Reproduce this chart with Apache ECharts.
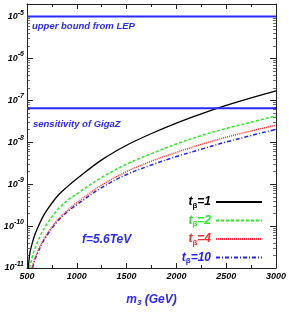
<!DOCTYPE html>
<html><head><meta charset="utf-8">
<script src="https://cdn.jsdelivr.net/npm/echarts@6/dist/echarts.min.js"></script>
<style>html,body{margin:0;padding:0;background:#fff}#c{width:289px;height:312px}</style>
</head><body><div id="c"></div>
<script>
// ---- data ----
const massTb1 = [503,527,550,577,600,650,700,800,900,1000,1250,1500,1750,2000,2250,2500,2750,3000];
const valTb1  = [5e-12,2.14e-11,3.72e-11,6.03e-11,8.32e-11,1.51e-10,2.40e-10,5.01e-10,8.51e-10,1.35e-9,3.80e-9,8.51e-9,1.62e-8,2.88e-8,4.79e-8,7.59e-8,1.15e-7,1.70e-7];
const massTb2 = [527,550,577,600,650,700,800,900,1000,1250,1500,1750,2000,2250,2500,2750,3000];
const valTb2  = [1.0e-11,1.74e-11,2.82e-11,3.89e-11,7.08e-11,1.12e-10,2.34e-10,3.98e-10,5.89e-10,1.45e-9,3.02e-9,5.37e-9,9.12e-9,1.45e-8,2.14e-8,3.02e-8,4.27e-8];
const massTb4 = [550,577,600,650,700,800,900,1000,1250,1500,1750,2000,2250,2500,2750,3000];
const valTb4  = [1.0e-11,1.62e-11,2.24e-11,4.07e-11,6.46e-11,1.35e-10,2.29e-10,3.63e-10,9.55e-10,2.0e-9,3.55e-9,5.75e-9,8.91e-9,1.32e-8,1.86e-8,2.57e-8];
const massTb10 = [555,577,600,650,700,800,900,1000,1250,1500,1750,2000,2250,2500,2750,3000];
const valTb10  = [1.0e-11,1.51e-11,2.09e-11,3.80e-11,6.03e-11,1.26e-10,2.14e-10,3.24e-10,8.32e-10,1.70e-9,2.88e-9,4.57e-9,6.84e-9,1.02e-8,1.45e-8,2.04e-8];
const seriesNames = ['tb=1','tb=2','tb=4','tb=10'];
const legendSuffix = ['=1','=2','=4','=10'];
const boundNames = ['upper bound from LEP','sensitivity of GigaZ'];
const boundValues = [1e-5, 6.5e-8];
const massRange = [500, 3000];
const xTickLabels = [500,1000,1500,2000,2500,3000];
const annotation = 'f=5.6TeV';

// ---- styling ----
const FF = '"Liberation Sans", Arial, sans-serif';
const colors = ['#000000','#22ee22','#ff2a2a','#2222ff'];
const lineTypes = ['solid',[3,2],[1,1],[4,2,1,2]];
const widths = [1.3,1.5,1.5,1.5];
const BLUE = '#2a2aff';

const chart = echarts.init(document.getElementById('c'));
const masses = [massTb1, massTb2, massTb4, massTb10];
const vals = [valTb1, valTb2, valTb4, valTb10];

const legendRich = {};
colors.forEach((c,i)=>{
  legendRich['t'+i] = {fontSize:12,fontWeight:'bold',fontStyle:'italic',fontFamily:FF,color:c};
  legendRich['s'+i] = {fontSize:8,fontWeight:'bold',fontFamily:FF,color:c,padding:[7,0,0,0]};
});
const yRich = {
  b:{fontSize:9,fontWeight:'bold',fontStyle:'italic',fontFamily:FF,color:'#000'},
  s:{fontSize:7,fontWeight:'bold',fontStyle:'italic',fontFamily:FF,color:'#000',padding:[0,0,8,0]}
};

const series = seriesNames.map((n,i)=>({
  name:n, type:'line', showSymbol:false, symbol:'none', smooth:0.35, clip:true,
  xAxisIndex:0, yAxisIndex:0,
  data: masses[i].map((m,k)=>[m, vals[i][k]]),
  lineStyle:{color:colors[i], width:widths[i], type:lineTypes[i]},
  itemStyle:{color:colors[i]},
  z: 5-i
}));
boundNames.forEach((n,i)=>{
  series.push({
    name:n, type:'line', showSymbol:false, symbol:'none', silent:true,
    data: massRange.map(m=>[m, boundValues[i]]),
    lineStyle:{color:BLUE, width:2, type:'solid'}, z:6
  });
});

const axisLineStyle = {color:'#222', width:1};
chart.setOption({
  animation:false,
  backgroundColor:'#fff',
  grid:{left:27, right:11, top:4, bottom:29, containLabel:false},
  xAxis:[
    {type:'value', min:500, max:3000, interval:500, position:'bottom',
     axisLine:{lineStyle:axisLineStyle}, splitLine:{show:false},
     axisTick:{inside:true, length:5, lineStyle:axisLineStyle},
     minorTick:{show:true, splitNumber:2, length:3, lineStyle:axisLineStyle},
     axisLabel:{margin:4, fontSize:9, fontWeight:'bold', fontStyle:'italic', fontFamily:FF, color:'#000',
       formatter:v=> xTickLabels.indexOf(v)>=0 ? String(v) : ''},
     name:'{m|m}{sub|3}{m| (GeV)}', nameLocation:'middle', nameGap:25,
     nameTextStyle:{rich:{
       m:{fontSize:12,fontWeight:'bold',fontStyle:'italic',fontFamily:FF,color:BLUE},
       sub:{fontSize:8,fontWeight:'bold',fontStyle:'italic',fontFamily:FF,color:BLUE,padding:[6,0,0,0]}}}
    },
    {type:'value', min:500, max:3000, interval:500, position:'top',
     axisLine:{lineStyle:axisLineStyle}, splitLine:{show:false},
     axisTick:{inside:true, length:5, lineStyle:axisLineStyle},
     minorTick:{show:true, splitNumber:2, length:3, lineStyle:axisLineStyle},
     axisLabel:{show:false}}
  ],
  yAxis:[
    {type:'log', logBase:10, min:1e-11, max:2e-5, position:'left',
     axisLine:{lineStyle:axisLineStyle}, splitLine:{show:false},
     axisTick:{inside:true, length:6, lineStyle:axisLineStyle},
     minorTick:{show:true, splitNumber:9, length:3, lineStyle:{color:'#444',width:0.8}},
     axisLabel:{margin:3, showMaxLabel:false, formatter:v=>{const e=Math.round(Math.log10(v)); return Math.abs(Math.log10(v)-e)<1e-6 ? '{b|10}{s|'+e+'}' : '';}, rich:yRich}
    },
    {type:'log', logBase:10, min:1e-11, max:2e-5, position:'right',
     axisLine:{lineStyle:axisLineStyle}, splitLine:{show:false},
     axisTick:{inside:true, length:6, lineStyle:axisLineStyle},
     minorTick:{show:true, splitNumber:9, length:3, lineStyle:{color:'#444',width:0.8}},
     axisLabel:{show:false}}
  ],
  legend:{
    orient:'vertical', align:'right', right:26, top:196, padding:0,
    itemWidth:46, itemHeight:10, itemGap:5,
    itemStyle:{opacity:0},
    data:seriesNames,
    formatter:name=>{const i=seriesNames.indexOf(name); return '{t'+i+'|t}{s'+i+'|β}{t'+i+'|'+legendSuffix[i]+'}';},
    textStyle:{rich:legendRich}
  },
  graphic:[
    {type:'text', left:82, top:234, style:{text:annotation, fill:BLUE, font:'italic bold 12px '+FF}},
    {type:'text', left:32, top:21, style:{text:boundNames[0], fill:BLUE, font:'italic bold 9.5px '+FF}},
    {type:'text', left:33, top:119, style:{text:boundNames[1], fill:BLUE, font:'italic bold 9.5px '+FF}}
  ],
  series:series
});
</script></body></html>
